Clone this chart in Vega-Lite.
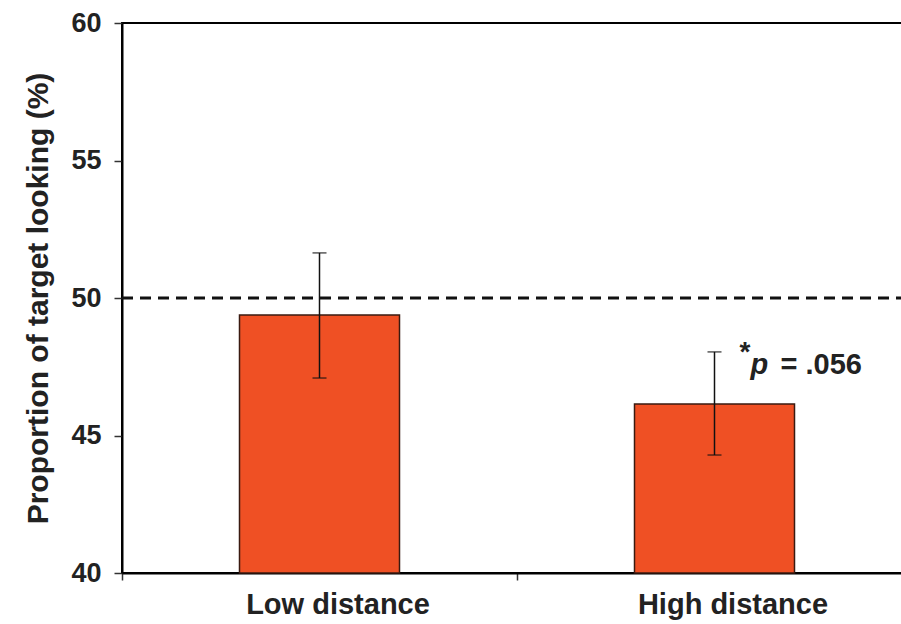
{
  "$schema": "https://vega.github.io/schema/vega-lite/v6.json",
  "width": 790,
  "height": 550,
  "autosize": {"type": "none"},
  "padding": {"left": 122, "top": 23, "right": 0, "bottom": 51},
  "background": "white",
  "config": {
    "view": {"stroke": "black", "strokeWidth": 2},
    "font": "Liberation Sans",
    "axis": {"grid": false, "domainColor": "black", "domainWidth": 2, "tickColor": "#333", "tickWidth": 1.5, "labelColor": "#222", "titleColor": "#222", "labelFont": "Liberation Sans", "titleFont": "Liberation Sans", "labelFontWeight": "bold", "titleFontWeight": "bold", "labelLimit": 400}
  },
  "datasets": {
    "bars": [
      {"condition": "Low distance", "value": 49.38, "lo": 47.09, "hi": 51.64, "base": 40},
      {"condition": "High distance", "value": 46.15, "lo": 44.29, "hi": 48.04, "base": 40}
    ],
    "ref": [{"chance": 50}],
    "note": [
      {"condition": "High distance", "y": 47.7, "part": "*"},
      {"condition": "High distance", "y": 47.25, "part": "p"},
      {"condition": "High distance", "y": 47.25, "part": "= .056"}
    ]
  },
  "encoding": {
    "x": {
      "field": "condition", "type": "nominal", "sort": ["Low distance", "High distance"],
      "scale": {"paddingInner": 0, "paddingOuter": 0},
      "axis": {"title": null, "labelAngle": 0, "labelFontSize": 29, "labelPadding": 10, "labelLimit": 400, "labelOffset": 18, "tickBand": "extent", "tickSize": 7, "domainWidth": 2}
    }
  },
  "layer": [
    {
      "data": {"name": "bars"},
      "mark": {"type": "bar", "size": 160, "color": "#EF5024", "stroke": "#3a1a10", "strokeWidth": 1.5},
      "encoding": {
        "y": {
          "field": "value", "type": "quantitative",
          "scale": {"domain": [40, 60], "zero": false, "nice": false},
          "axis": {"title": "Proportion of target looking (%)", "values": [40, 45, 50, 55, 60], "labelFontSize": 27, "titleFontSize": 30, "tickSize": 8, "labelPadding": 13, "titlePadding": 17}
        },
        "y2": {"field": "base"}
      }
    },
    {
      "data": {"name": "bars"},
      "mark": {"type": "rule", "color": "#111", "strokeWidth": 1.5},
      "encoding": {"y": {"field": "lo", "type": "quantitative"}, "y2": {"field": "hi"}}
    },
    {
      "data": {"name": "bars"},
      "mark": {"type": "tick", "color": "#111", "thickness": 1.5, "size": 14, "orient": "horizontal"},
      "encoding": {"y": {"field": "lo", "type": "quantitative"}}
    },
    {
      "data": {"name": "bars"},
      "mark": {"type": "tick", "color": "#111", "thickness": 1.5, "size": 14, "orient": "horizontal"},
      "encoding": {"y": {"field": "hi", "type": "quantitative"}}
    },
    {
      "data": {"name": "ref"},
      "mark": {"type": "rule", "color": "#111", "strokeWidth": 3, "strokeDash": [11, 7]},
      "encoding": {"y": {"field": "chance", "type": "quantitative"}, "x": {"value": 0}, "x2": {"value": 790}}
    },
    {
      "data": {"name": "note"},
      "transform": [{"filter": "datum.part === '*'"}],
      "mark": {"type": "text", "fontSize": 28, "fontWeight": "bold", "color": "#222", "align": "left", "baseline": "alphabetic", "dx": 25},
      "encoding": {"text": {"field": "part"}, "y": {"field": "y", "type": "quantitative"}}
    },
    {
      "data": {"name": "note"},
      "transform": [{"filter": "datum.part === 'p'"}],
      "mark": {"type": "text", "fontSize": 29, "fontWeight": "bold", "fontStyle": "italic", "color": "#222", "align": "left", "baseline": "alphabetic", "dx": 36},
      "encoding": {"text": {"field": "part"}, "y": {"field": "y", "type": "quantitative"}}
    },
    {
      "data": {"name": "note"},
      "transform": [{"filter": "datum.part === '= .056'"}],
      "mark": {"type": "text", "fontSize": 29, "fontWeight": "bold", "color": "#222", "align": "left", "baseline": "alphabetic", "dx": 66},
      "encoding": {"text": {"field": "part"}, "y": {"field": "y", "type": "quantitative"}}
    }
  ]
}
